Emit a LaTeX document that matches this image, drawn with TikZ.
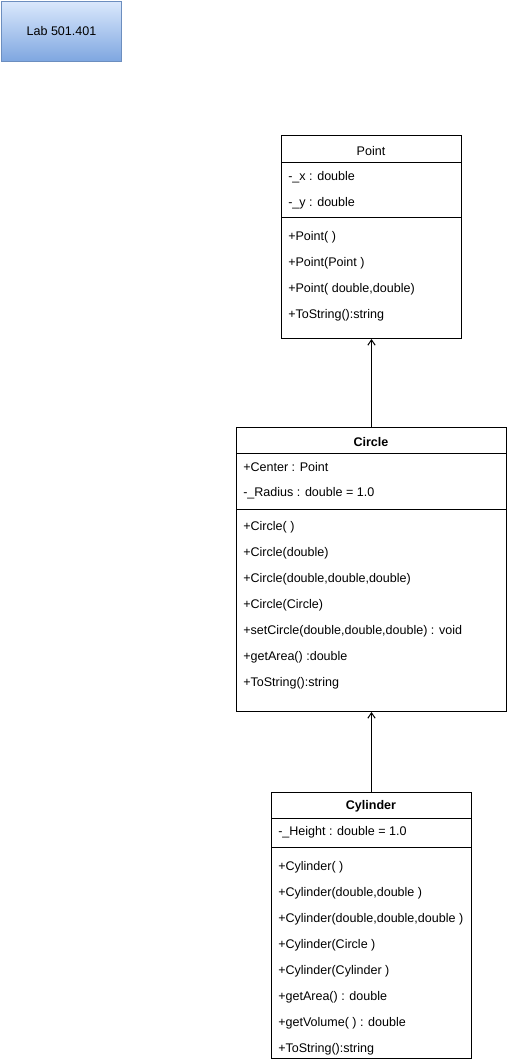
\documentclass[tikz,border=0pt]{standalone}
\usepackage{fontspec}
\setmainfont{Liberation Sans}
\usetikzlibrary{arrows.meta}

\definecolor{azulclaro}{HTML}{DAE8FC}
\definecolor{azuloscuro}{HTML}{7EA6E0}
\definecolor{bordeazul}{HTML}{6C8EBF}

\begin{document}
\begin{tikzpicture}[x=0.75pt,y=-0.75pt,font=\fontsize{9.4}{11}\selectfont]

% definiciones

% estilos de linea y texto
\tikzstyle{clase}    = [draw=black,line width=0.75pt,anchor=north west,inner sep=0pt]
\tikzstyle{fila}     = [anchor=west,inner sep=0pt]
\tikzstyle{titulo}   = [inner sep=0pt]
\tikzstyle{herencia} = [line width=0.75pt,-{Straight Barb[length=4pt,width=5.5pt]}]

% caja de clase
% #1: nombre de la caja
% #2,#3: esquina superior izquierda (px)
% #4: ancho, #5: alto (px)
% #6: alto del titulo, #7: posicion del separador
\newcommand{\clase}[7]{
	\node [clase,minimum width=#4*0.75pt,minimum height=#5*0.75pt] (#1) at (#2,#3) {};
	\draw [line width=0.75pt] (#1.north west) ++(0,#6) -- ++(#4,0);
	\draw [line width=0.75pt] (#1.north west) ++(0,#7) -- ++(#4,0);
}

% marco del bloque
\useasboundingbox (0,0) rectangle (508,1063);

% rotulo del laboratorio
\node [draw=bordeazul,line width=0.75pt,top color=azulclaro,bottom color=azuloscuro,
	minimum width=120*0.75pt,minimum height=60*0.75pt,anchor=north west] (lab) at (1,1) {Lab 501.401};

% clases
\clase{point}{281}{135}{180}{203}{27}{82}
\clase{circle}{236}{427}{270}{284}{26}{82}
\clase{cylinder}{271}{792}{200}{266}{26}{55}

% titulos
\node [titulo] (pointname) at (371,151) {Point};
\node [titulo] (circlename) at (371,442) {\bfseries Circle};
\node [titulo] (cylindername) at (371,806) {\bfseries Cylinder};

% atributos y metodos
\foreach \t [count=\i] in {{-\_x : double},{-\_y : double}}
	\node [fila] (pointattr\i) at (288,{177+26*(\i-1)}) {\t};
\foreach \t [count=\i] in {{+Point( )},{+Point(Point )},{+Point( double,double)},{+ToString():string}}
	\node [fila] (pointop\i) at (288,{237+26*(\i-1)}) {\t};

\foreach \t [count=\i] in {{+Center : Point},{-\_Radius : double = 1.0}}
	\node [fila] (circleattr\i) at (243,{467+26*(\i-1)}) {\t};
\foreach \t [count=\i] in {{+Circle( )},{+Circle(double)},{+Circle(double,double,double)},{+Circle(Circle)},
	{+setCircle(double,double,double) : void},{+getArea() :double},{+ToString():string}}
	\node [fila] (circleop\i) at (243,{527+26*(\i-1)}) {\t};

\node [fila] (cylinderattr1) at (278,832) {-\_Height : double = 1.0};
\foreach \t [count=\i] in {{+Cylinder( )},{+Cylinder(double,double )},{+Cylinder(double,double,double )},
	{+Cylinder(Circle )},{+Cylinder(Cylinder )},{+getArea() : double},{+getVolume( ) : double},{+ToString():string}}
	\node [fila] (cylinderop\i) at (278,{867+26*(\i-1)}) {\t};

% herencia
\draw [herencia] (circle.north) -- (point.south);
\draw [herencia] (cylinder.north) -- (circle.south);

\end{tikzpicture}
\end{document}
